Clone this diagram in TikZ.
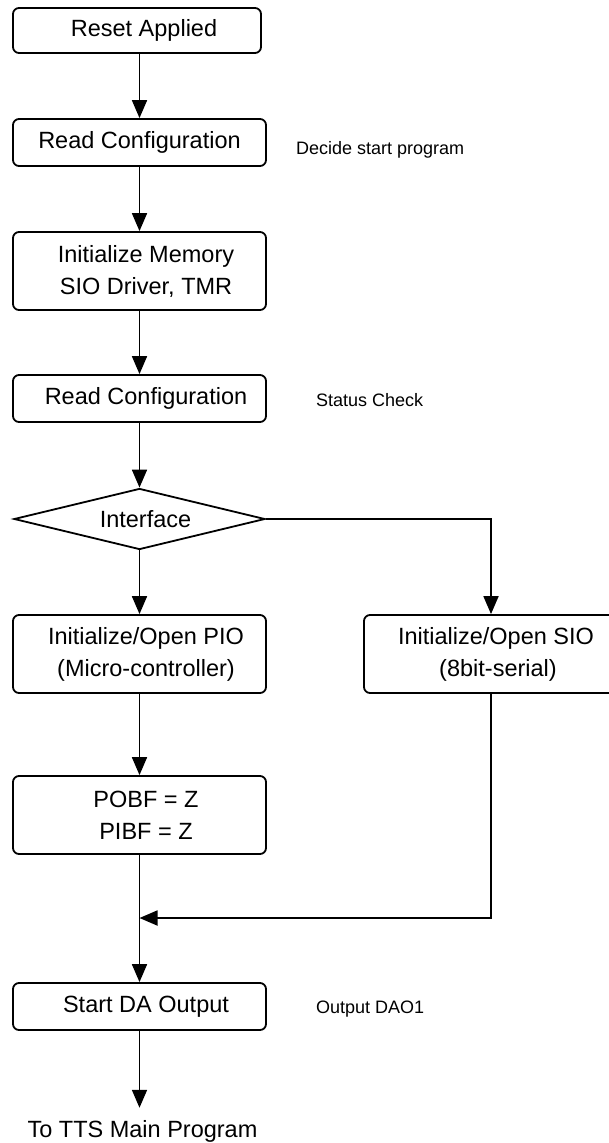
\documentclass[tikz,border=0pt]{standalone}
\usepackage{fontspec}
\setmainfont{Liberation Sans}
\usetikzlibrary{arrows.meta,shapes.geometric}
\tikzset{
  box/.style={draw, line width=1.8pt, rounded corners=6pt, minimum width=253pt,
    inner sep=0pt, align=center, font=\fontsize{23.5}{32}\selectfont},
  onebox/.style={box, minimum height=47pt},
  twobox/.style={box, minimum height=78pt},
  decision/.style={draw, line width=1.8pt, diamond, shape aspect=4.1, minimum width=251pt, minimum height=61pt,
    inner sep=0pt, font=\fontsize{23.5}{28}\selectfont},
  note/.style={inner sep=0pt, font=\fontsize{18}{22}\selectfont},
  arr/.style={line width=1.8pt, -{Triangle[length=18pt,width=15pt]}},
  ln/.style={line width=1.8pt}
}
\begin{document}
\begin{tikzpicture}[x=1pt,y=-1pt]
\useasboundingbox (0,0) rectangle (608,1143);
\node[onebox, minimum width=248pt, minimum height=45pt] (reset) at (137,30.5) {\hspace*{14pt}Reset Applied};
\node[onebox] (read1) at (139.5,142.5) {Read Configuration};
\node[twobox] (mem) at (139.5,271) {\hspace*{13pt}Initialize Memory\\\hspace*{13pt}SIO Driver, TMR};
\node[onebox] (read2) at (139.5,398.5) {\hspace*{13pt}Read Configuration};
\node[decision] (iface) at (139.5,519) {\hspace*{12pt}Interface};
\node[twobox] (pio) at (139.5,654) {\hspace*{13pt}Initialize/Open PIO\\\hspace*{13pt}(Micro-controller)};
\node[twobox, minimum width=254pt] (sio) at (491,654) {\hspace*{10pt}Initialize/Open SIO\\\hspace*{14pt}(8bit-serial)};
\node[twobox] (pobf) at (139.5,815) {\hspace*{13pt}POBF = Z\\\hspace*{13pt}PIBF = Z};
\node[onebox] (start) at (139.5,1006.5) {\hspace*{13pt}Start DA Output};
\node[anchor=base, inner xsep=0pt, inner ysep=12pt, font=\fontsize{23.5}{28}\selectfont] (tts) at (142.5,1137) {To TTS Main Program};

\node[note, anchor=base west] (n1) at (296,154) {Decide start program};
\node[note, anchor=base west] (n2) at (316,406) {Status Check};
\node[note, anchor=base west] (n3) at (316,1013) {Output DAO1};

\coordinate (join) at (139.5,918);

\draw[arr] (reset.south -| read1.north) -- (read1.north);
\draw[arr] (read1.south) -- (mem.north);
\draw[arr] (mem.south) -- (read2.north);
\draw[arr] (read2.south) -- (iface.north);
\draw[arr] (iface.south) -- (pio.north);
\draw[arr] (iface.east) -| (sio.north);
\draw[arr] (pio.south) -- (pobf.north);
\draw[arr] (pobf.south) -- (start.north);
\draw[arr] (sio.south) |- (join);
\draw[arr] (start.south) -- (tts.north -| start.south);
\end{tikzpicture}
\end{document}
